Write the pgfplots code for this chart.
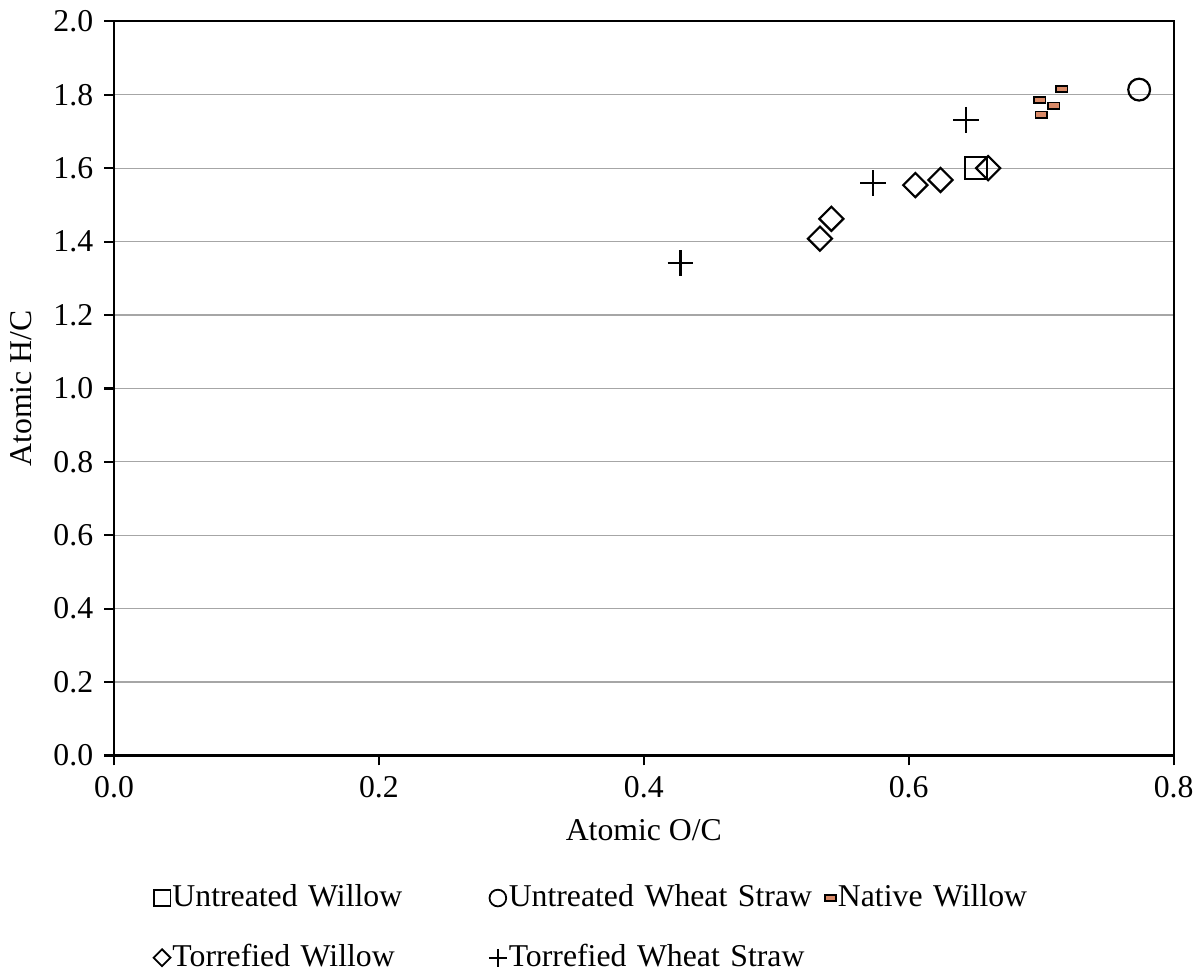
\documentclass[border=0pt]{standalone}
\usepackage{fontspec}
\setmainfont{Liberation Serif}
\usepackage{pgfplots}
\pgfplotsset{compat=1.18}
\definecolor{nwfill}{HTML}{D98A68}
\begin{document}
\fontsize{16}{19}\selectfont
\begin{tikzpicture}
\begin{axis}[
  scale only axis,
  width=534pt, height=370pt,
  xmin=0, xmax=0.8, ymin=0, ymax=2.0,
  xtick={0,0.2,0.4,0.6,0.8},
  ytick={0,0.2,0.4,0.6,0.8,1.0,1.2,1.4,1.6,1.8,2.0},
  xticklabel style={/pgf/number format/.cd,fixed,fixed zerofill,precision=1},
  yticklabel style={/pgf/number format/.cd,fixed,fixed zerofill,precision=1},
  /pgf/number format/assume math mode=true,
  ymajorgrids,
  grid style={gray!70, line width=0.6pt},
  axis line style={black, line width=1.1pt},
  tick style={black, line width=1.1pt},
  tick align=outside,
  major tick length=5pt,
  xtick pos=bottom, ytick pos=left,
  ticklabel style={font=\fontsize{16}{19}\selectfont},
  label style={font=\fontsize{16}{19}\selectfont},
  xlabel={Atomic O/C},
  ylabel={Atomic H/C},
  legend columns=3,
  legend cell align=left,
  legend style={
    at={(axis description cs:0.037,-0.170)}, anchor=north west,
    draw=none, fill=none, inner sep=0pt,
    font=\fontsize{16}{19}\selectfont,
    nodes={inner xsep=1pt, inner ysep=2pt, text width=158.5pt, align=left},
    /tikz/every odd column/.append style={column sep=0pt},
    /tikz/every even column/.append style={column sep=0pt},
    row sep=12.5pt,
  },
  legend image code/.code={\draw[mark repeat=2,mark phase=2,#1] plot coordinates {(0cm,0cm) (0.16cm,0cm) (0.32cm,0cm)};},
]
\addplot[forget plot, only marks, mark=square, mark size=5.5pt, line width=1.1pt, black]
  coordinates {(0.651,1.600)};
\addplot[forget plot, only marks, mark=o, mark size=5.5pt, line width=1.1pt, black]
  coordinates {(0.774,1.814)};
\addplot[forget plot, only marks, mark=square*, mark size=1.6pt, mark options={xscale=1.8, fill=nwfill, draw=black, line width=0.8pt}]
  coordinates {(0.7155,1.816) (0.699,1.786) (0.7096,1.770) (0.700,1.746)};
\addplot[forget plot, only marks, mark=square, mark size=4.3pt, mark options={rotate=45}, line width=1.1pt, black]
  coordinates {(0.533,1.408) (0.5416,1.462) (0.605,1.554) (0.624,1.568) (0.660,1.600)};
\addplot[forget plot, only marks, mark=+, mark size=6.5pt, line width=1.1pt, black]
  coordinates {(0.4277,1.341) (0.573,1.559) (0.6434,1.732)};

\addlegendimage{only marks, mark=square, mark size=4.2pt, line width=0.9pt, black}
\addlegendentry{Untreated Willow}
\addlegendimage{only marks, mark=o, mark size=4.2pt, line width=0.9pt, black}
\addlegendentry{Untreated Wheat Straw}
\addlegendimage{only marks, mark=square*, mark size=1.5pt, mark options={xscale=1.8, fill=nwfill, draw=black, line width=0.8pt}}
\addlegendentry{Native Willow}
\addlegendimage{only marks, mark=square, mark size=3pt, mark options={rotate=45}, line width=0.9pt, black}
\addlegendentry{Torrefied Willow}
\addlegendimage{only marks, mark=+, mark size=4.5pt, line width=1pt, black}
\addlegendentry{Torrefied Wheat Straw}
\end{axis}
\end{tikzpicture}
\end{document}
